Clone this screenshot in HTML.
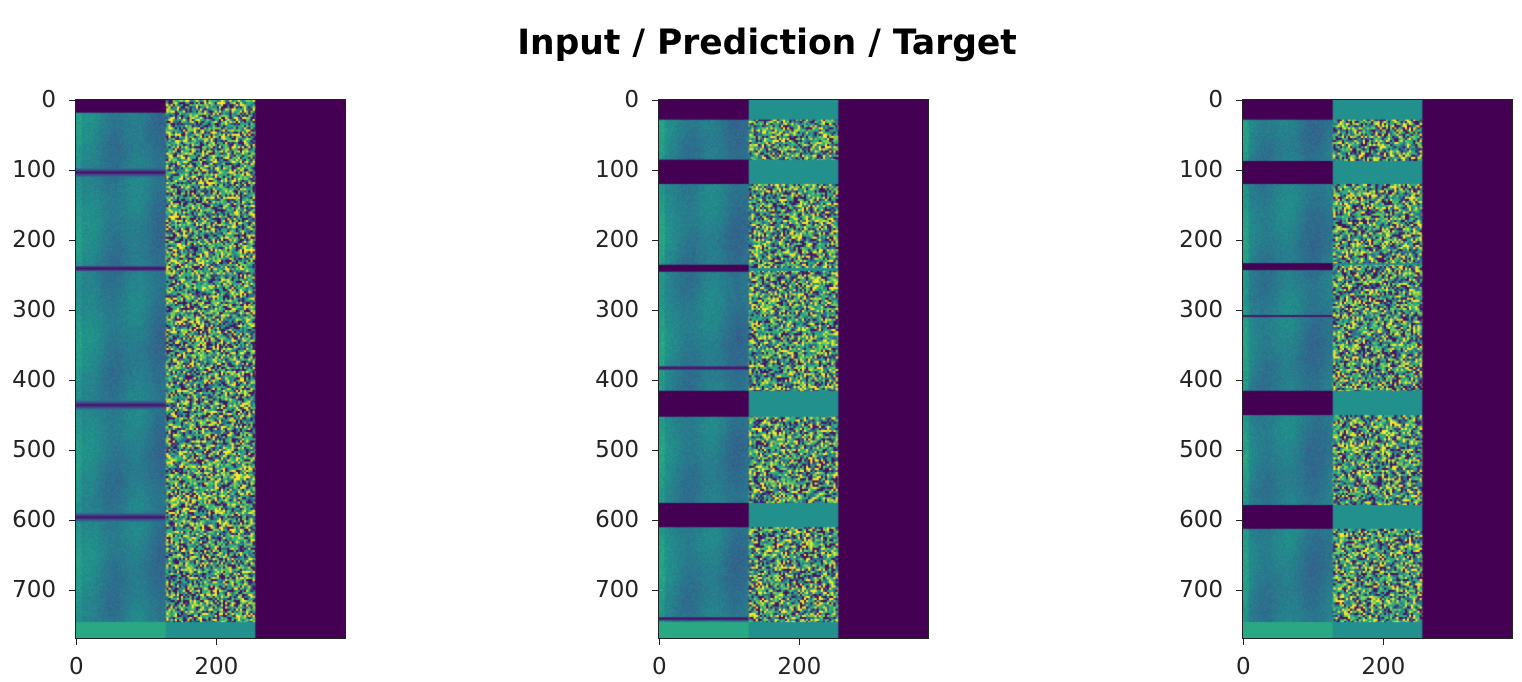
<!DOCTYPE html>
<html><head><meta charset="utf-8">
<style>
body{margin:0;background:#fff;width:1522px;height:682px;overflow:hidden;position:relative;font-family:"DejaVu Sans","Liberation Sans",sans-serif;}
#title{position:absolute;left:0;width:1534px;top:23px;text-align:center;font-weight:bold;font-size:34.5px;color:#000;}
canvas{position:absolute;}
.frame{position:absolute;border:1px solid #222;box-sizing:border-box;}
.tick{position:absolute;background:#222;}
.lbl{position:absolute;font-size:23px;color:#222;line-height:26px;}
</style></head><body>
<div id="title">Input / Prediction / Target</div>
<div id="root"></div>
<script>
// image layout: rows 0..768, cols 0..384, three blocks of 128 columns
const panelNames = ['input-panel','prediction-panel','target-panel'];
const panelLeft = [76, 659, 1243];
const yTicks = [0,100,200,300,400,500,600,700];
const xTicks = [0,200];
// left block segments [startRow, endRow, kind]
const leftSegs = [
  [[0,18,'dark'],[18,745,'tex'],[745,768,'band']],
  [[0,28,'dark'],[28,85,'tex'],[85,120,'dark'],[120,235,'tex'],[235,245,'dark'],[245,415,'tex'],[415,452,'dark'],[452,575,'tex'],[575,610,'dark'],[610,745,'tex'],[745,768,'band']],
  [[0,28,'dark'],[28,87,'tex'],[87,120,'dark'],[120,233,'tex'],[233,243,'dark'],[243,415,'tex'],[415,450,'dark'],[450,578,'tex'],[578,612,'dark'],[612,745,'tex'],[745,768,'band']]
];
// dark lines inside textured region: [row, thickness]
const darkLines = [[[103,7],[435,8],[595,7],[240,4]],[[382,3],[740,3]],[[308,2]]];
const midSegs = [
  [[0,745,'noise'],[745,768,'teal']],
  [[0,28,'teal'],[28,85,'noise'],[85,120,'teal'],[120,240,'noise'],[240,244,'teal'],[244,415,'noise'],[415,452,'teal'],[452,575,'noise'],[575,610,'teal'],[610,745,'noise'],[745,768,'teal']],
  [[0,28,'teal'],[28,87,'noise'],[87,120,'teal'],[120,233,'noise'],[233,236,'teal'],[236,415,'noise'],[415,450,'teal'],[450,578,'noise'],[578,612,'teal'],[612,745,'noise'],[745,768,'teal']]
];
const vir=[[68,1,84],[72,40,120],[62,74,137],[49,104,142],[38,130,142],[31,158,137],[53,183,121],[109,205,89],[180,222,44],[253,231,37]];
function viridis(t){t=Math.max(0,Math.min(1,t))*9;const i=Math.min(8,Math.floor(t)),f=t-i;const a=vir[i],b=vir[i+1];return [a[0]+(b[0]-a[0])*f,a[1]+(b[1]-a[1])*f,a[2]+(b[2]-a[2])*f];}
function hash(x,y,s){let h=(x*374761393+y*668265263+s*2147483647)|0;h=Math.imul(h^(h>>>13),1274126177);h^=h>>>16;return (h>>>0)/4294967296;}
const X0=0.7, Y0=0.7; // px per data unit
const plotTop=100, W=384, H=768;
const root=document.getElementById('root');
function kindAt(segs,r){for(const s of segs){if(r>=s[0]&&r<s[1])return s[2];}return 'dark';}
for(let p=0;p<3;p++){
  const L=panelLeft[p];
  const pw=Math.round(W*X0), ph=Math.round(H*Y0);
  const c=document.createElement('canvas');
  
  
  c.width=pw;c.height=ph;c.style.left=L+'px';c.style.top=plotTop+'px';
  root.appendChild(c);
  const off=document.createElement('canvas');off.width=W;off.height=H;
  const octx=off.getContext('2d');const img=octx.createImageData(W,H);
  for(let r=0;r<H;r++){
    for(let col=0;col<W;col++){
      let t;
      if(col>=256){t=0;}
      else if(col<128){
        const k=kindAt(leftSegs[p],r);
        if(k==='dark')t=0.0;
        else if(k==='band')t=0.6;
        else{
          t=0.45+0.04*Math.sin(col*0.09+p)+0.03*Math.sin(r*0.04+col*0.03)-0.16*(hash(col,r,p)-0.5)+(col<8?0.07:0)-0.06*(col/128);
          for(const d of darkLines[p]){const dd=Math.abs(r-d[0]);if(dd<d[1])t=Math.min(t,0.03+dd*0.06);}
        }
      } else {
        const k=kindAt(midSegs[p],r);
        if(k==='teal')t=0.5;
        else{
          const v=hash(Math.floor(col/3),Math.floor(r/3),p+7);
          t=v<0.22?0.05:(v<0.42?0.35:(v<0.7?0.62:(v<0.84?0.8:1.0)));
        }
      }
      const rgb=viridis(t);const i=(r*W+col)*4;
      img.data[i]=rgb[0];img.data[i+1]=rgb[1];img.data[i+2]=rgb[2];img.data[i+3]=255;
    }
  }
  octx.putImageData(img,0,0);
  const ctx=c.getContext('2d');ctx.imageSmoothingEnabled=true;ctx.drawImage(off,0,0,pw,ph);
  const f=document.createElement('div');f.className='frame';
  
  
  f.style.left=(L-1)+'px';f.style.top=(plotTop-1)+'px';f.style.width=(pw+2)+'px';f.style.height=(ph+2)+'px';
  root.appendChild(f);
  for(const v of yTicks){
    const y=plotTop+(v+0.5)*Y0;
    const t=document.createElement('div');t.className='tick';
    
    
    t.style.left=(L-7)+'px';t.style.top=(y-0.5)+'px';t.style.width='6px';t.style.height='1px';root.appendChild(t);
    const l=document.createElement('div');l.className='lbl';
    
    
    l.textContent=v;l.style.right=(1522-L+20)+'px';l.style.top=(y-13)+'px';root.appendChild(l);
  }
  for(const v of xTicks){
    const x=L+(v+0.5)*X0;
    const t=document.createElement('div');t.className='tick';
    
    
    t.style.left=(x-0.5)+'px';t.style.top=(plotTop+ph+1)+'px';t.style.width='1px';t.style.height='6px';root.appendChild(t);
    const l=document.createElement('div');l.className='lbl';
    
    
    l.textContent=v;l.style.left=(x-40)+'px';l.style.width='80px';l.style.textAlign='center';l.style.top=(plotTop+ph+16)+'px';root.appendChild(l);
  }
}
</script>
</body></html>
